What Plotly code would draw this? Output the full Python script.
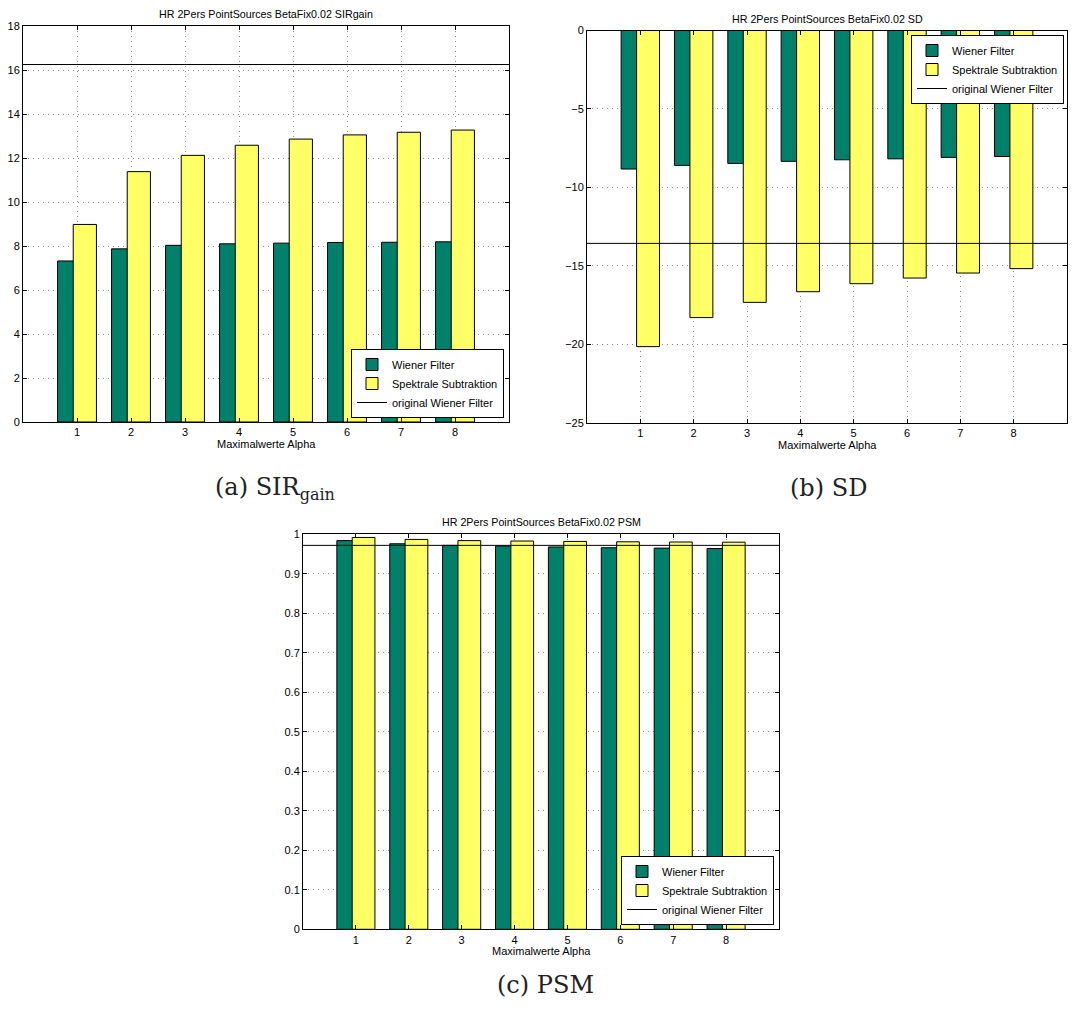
import plotly.graph_objects as go

alpha = [1, 2, 3, 4, 5, 6, 7, 8]
series_names = ["Wiener Filter", "Spektrale Subtraktion", "original Wiener Filter"]

sir_wiener = [7.32, 7.87, 8.03, 8.10, 8.13, 8.16, 8.17, 8.19]
sir_spektral = [8.98, 11.38, 12.12, 12.58, 12.86, 13.05, 13.17, 13.27]
sir_orig = 16.25

sd_wiener = [-8.83, -8.60, -8.47, -8.34, -8.24, -8.18, -8.09, -8.03]
sd_spektral = [-20.15, -18.30, -17.33, -16.65, -16.14, -15.78, -15.46, -15.18]
sd_orig = -13.57

psm_wiener = [0.984, 0.976, 0.972, 0.970, 0.968, 0.966, 0.965, 0.964]
psm_spektral = [0.992, 0.987, 0.984, 0.983, 0.982, 0.981, 0.9805, 0.980]
psm_orig = 0.972

titles = ["HR 2Pers PointSources BetaFix0.02 SIRgain",
          "HR 2Pers PointSources BetaFix0.02 SD",
          "HR 2Pers PointSources BetaFix0.02 PSM"]
captions = ["(a) SIR<sub><span style='font-size:16px'>gain</span></sub>", "(b) SD", "(c) PSM"]
xlabel = "Maximalwerte Alpha"

GREEN = "#00806A"
YELLOW = "#FFFF66"
W, H = 1083, 1010
XR = [0, 9]

panels = [
    dict(w=sir_wiener, s=sir_spektral, o=sir_orig, yr=[0, 18], dt=2,
         px=(23, 509), py=(26, 422), legend=dict(x=504, y=418, xa="right", ya="bottom")),
    dict(w=sd_wiener, s=sd_spektral, o=sd_orig, yr=[-25, 0], dt=5,
         px=(587, 1067), py=(30.5, 422.7), legend=dict(x=1064, y=35, xa="right", ya="top")),
    dict(w=psm_wiener, s=psm_spektral, o=psm_orig, yr=[0, 1], dt=0.1,
         px=(303, 779), py=(534.3, 929.3), legend=dict(x=774, y=925, xa="right", ya="bottom")),
]

fig = go.Figure()
layout = dict(width=W, height=H, margin=dict(l=0, r=0, t=0, b=0, autoexpand=False),
              paper_bgcolor="white", plot_bgcolor="white", barmode="overlay",
              font=dict(family="Liberation Sans, Arial", size=11, color="black"),
              showlegend=True, template="none")
annotations = []

for i, p in enumerate(panels):
    k = "" if i == 0 else str(i + 1)
    xa, ya = "x" + k, "y" + k
    lg = "legend" + k
    fig.add_trace(go.Bar(x=alpha, y=p["w"], name=series_names[0], marker=dict(color=GREEN, line=dict(color="black", width=1)),
                         width=0.43, offset=-0.36, xaxis=xa, yaxis=ya, legend=lg))
    fig.add_trace(go.Bar(x=alpha, y=p["s"], name=series_names[1], marker=dict(color=YELLOW, line=dict(color="black", width=1)),
                         width=0.43, offset=-0.07, xaxis=xa, yaxis=ya, legend=lg))
    fig.add_trace(go.Scatter(x=XR, y=[p["o"], p["o"]], name=series_names[2], mode="lines",
                             line=dict(color="black", width=1), xaxis=xa, yaxis=ya, legend=lg))
    x0, x1 = p["px"][0] / W, p["px"][1] / W
    y0, y1 = 1 - p["py"][1] / H, 1 - p["py"][0] / H
    axcommon = dict(showline=True, linecolor="black", linewidth=1, mirror="ticks", ticks="inside",
                    ticklen=4, tickcolor="black", showgrid=True, gridcolor="#8a8a8a", griddash="1px,4px",
                    gridwidth=1, zeroline=False, tickfont=dict(size=11), automargin=False)
    layout["xaxis" + k] = dict(domain=[x0, x1], range=XR, tickvals=alpha, anchor=ya, **axcommon)
    layout["yaxis" + k] = dict(domain=[y0, y1], range=p["yr"], dtick=p["dt"], anchor=xa, **axcommon)
    L = p["legend"]
    layout[lg] = dict(x=L["x"] / W, y=1 - L["y"] / H, xanchor=L["xa"], yanchor=L["ya"],
                      bgcolor="white", bordercolor="black", borderwidth=1,
                      font=dict(size=11), tracegroupgap=0, itemwidth=30)
    cx = (x0 + x1) / 2
    annotations.append(dict(text=titles[i], x=cx, y=y1, xref="paper", yref="paper", xanchor="center",
                            yanchor="bottom", yshift=4, showarrow=False, font=dict(size=10.7)))
    annotations.append(dict(text=xlabel, x=cx, y=y0, xref="paper", yref="paper", xanchor="center",
                            yanchor="top", yshift=-14, showarrow=False, font=dict(size=11)))

caps_pos = [(275, 488), (828, 488), (545, 985)]
for c, (cx, cy) in zip(captions, caps_pos):
    annotations.append(dict(text=c, x=cx / W, y=1 - cy / H, xref="paper", yref="paper",
                            xanchor="center", yanchor="middle", showarrow=False,
                            font=dict(family="DejaVu Serif, Liberation Serif", size=24, color="#222")))

layout["annotations"] = annotations
fig.update_layout(**layout)
fig.write_html("out.html", config={"displayModeBar": False},
               post_script="document.body.style.margin='0';document.body.style.overflow='hidden';")
